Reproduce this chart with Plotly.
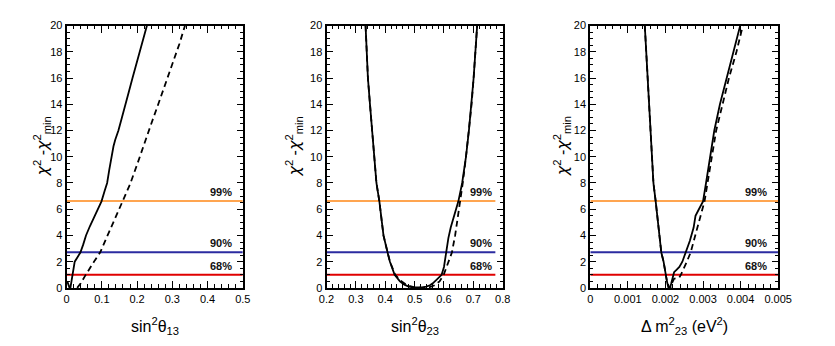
import plotly.graph_objects as go

# chi2 profiles
# panel 1: sin^2 theta_13
s13_solid_x = [0.002, 0.005, 0.008, 0.011, 0.013, 0.016, 0.019, 0.023, 0.030, 0.039, 0.047, 0.055,
               0.066, 0.077, 0.088, 0.099, 0.108, 0.115, 0.121, 0.127, 0.133, 0.138, 0.147, 0.157,
               0.166, 0.177, 0.187, 0.197, 0.207, 0.218, 0.228]
s13_solid_y = [0.5, 0.15, 0.02, 0.05, 0.4, 1.0, 1.6, 2.0, 2.3, 2.7, 3.3, 4.0,
               4.7, 5.3, 5.9, 6.6, 7.4, 8.0, 9.0, 10.0, 10.8, 11.3, 12.0, 13.0,
               14.0, 15.0, 16.0, 17.0, 18.0, 19.0, 20.0]
s13_dash_x = [0.030, 0.040, 0.052, 0.065, 0.080, 0.095, 0.110, 0.125, 0.140, 0.160, 0.180, 0.200,
              0.220, 0.240, 0.260, 0.280, 0.300, 0.320, 0.336]
s13_dash_y = [0.0, 0.35, 0.9, 1.5, 2.1, 2.7, 3.6, 4.5, 5.5, 6.6, 7.9, 9.4,
              11.0, 12.5, 14.0, 15.5, 17.1, 18.6, 20.0]

# panel 2: sin^2 theta_23
s23_solid_x = [0.333, 0.336, 0.341, 0.348, 0.355, 0.362, 0.370, 0.380, 0.394, 0.408, 0.416, 0.432,
               0.450, 0.465, 0.480, 0.495, 0.510, 0.525, 0.540, 0.552, 0.562, 0.575, 0.585, 0.592,
               0.600, 0.607, 0.615, 0.623, 0.632, 0.640, 0.649, 0.662, 0.675, 0.685, 0.694,
               0.701, 0.707, 0.713]
s23_solid_y = [20, 18, 16, 14, 12, 10, 8, 6.6, 4.0, 2.7, 2.0, 1.0,
               0.5, 0.25, 0.1, 0.04, 0.02, 0.04, 0.1, 0.2, 0.35, 0.6, 0.8, 1.0,
               1.6, 2.7, 3.8, 4.6, 5.3, 5.9, 6.6, 8, 10, 12, 14,
               16, 18, 20]
s23_dash_x = [0.333, 0.336, 0.341, 0.348, 0.355, 0.362, 0.370, 0.380, 0.394, 0.408, 0.416, 0.434,
              0.455, 0.475, 0.500, 0.525, 0.550, 0.568, 0.585, 0.599, 0.612, 0.627, 0.638,
              0.645, 0.655, 0.664, 0.675, 0.685, 0.694, 0.701, 0.707, 0.713]
s23_dash_y = [20, 18, 16, 14, 12, 10, 8, 6.6, 4.0, 2.7, 2.0, 1.0,
              0.5, 0.2, 0.05, 0.0, 0.05, 0.2, 0.5, 1.0, 1.8, 2.7, 4.0,
              5.0, 6.6, 8, 10, 12, 14, 16, 18, 20]

# panel 3: delta m^2_23 (eV^2)
dm_solid_x = [0.00145, 0.00149, 0.00154, 0.00158, 0.00161, 0.00164, 0.00168, 0.00174, 0.00180,
              0.00184, 0.00189, 0.00195, 0.00200, 0.00204, 0.00208, 0.00212, 0.00215, 0.00219,
              0.00223, 0.00230, 0.00237, 0.00245, 0.00254, 0.00265, 0.00275, 0.00280, 0.00289,
              0.00300, 0.00308, 0.00319, 0.00330, 0.00345, 0.00363, 0.00382, 0.00399]
dm_solid_y = [20, 18, 16, 14, 12, 10, 8, 6.6, 5.0,
              4.0, 2.7, 2.0, 1.0, 0.5, 0.0, 0.0, 0.3, 0.8,
              1.2, 1.4, 1.6, 2.0, 2.7, 3.6, 4.6, 5.5, 6.0,
              6.6, 8, 10, 12, 14, 16, 18, 20]
dm_dash_x = [0.00145, 0.00149, 0.00154, 0.00158, 0.00161, 0.00164, 0.00168, 0.00174, 0.00180,
             0.00184, 0.00189, 0.00195, 0.00200, 0.00204, 0.00209, 0.00213, 0.00218, 0.00223,
             0.00230, 0.00237, 0.00241, 0.00250, 0.00257, 0.00267, 0.00280, 0.00293, 0.00304,
             0.00312, 0.00323, 0.00335, 0.00352, 0.00369, 0.00389, 0.00406]
dm_dash_y = [20, 18, 16, 14, 12, 10, 8, 6.6, 5.0,
             4.0, 2.7, 2.0, 1.0, 0.5, 0.1, 0.0, 0.4, 0.7,
             0.75, 0.8, 1.0, 1.5, 2.0, 2.7, 4.0, 5.5, 6.6,
             8, 10, 12, 14, 16, 18, 20]

# confidence levels
cl_values = [1.0, 2.71, 6.63]
cl_labels = ['68%', '90%', '99%']
cl_colors = ['#e00000', '#2b2ba0', '#ffa550']

panels = [
    dict(solid=(s13_solid_x, s13_solid_y), dash=(s13_dash_x, s13_dash_y),
         xrange=[0, 0.5], clx=[0, 0.5], dtick=0.1, minor=0.02,
         title='sin<sup>2</sup>θ<sub>13</sub>'),
    dict(solid=(s23_solid_x, s23_solid_y), dash=(s23_dash_x, s23_dash_y),
         xrange=[0.2, 0.8], clx=[0.2, 0.775], dtick=0.1, minor=0.02,
         title='sin<sup>2</sup>θ<sub>23</sub>'),
    dict(solid=(dm_solid_x, dm_solid_y), dash=(dm_dash_x, dm_dash_y),
         xrange=[0, 0.005], clx=[0, 0.005], dtick=0.001, minor=0.0002,
         title='Δ m<sup>2</sup><sub>23</sub> (eV<sup>2</sup>)'),
]

# the page body has an 8px margin, so the figure starts at (8, 8) in the window
OFF = 8
WIN_W, WIN_H = 835, 346
W, H = WIN_W - OFF, WIN_H - OFF


def px_x(px):
    return (px - OFF) / W


def px_y(py):
    return 1 - (py - OFF) / H


# plot frames in window pixels (left, right)
frames = [(60, 241), (327, 508), (598, 791)]
top_px, bot_px = 20, 292
ytitle_px = [35, 294, 569]

font = 'Liberation Sans, Arial, Helvetica, sans-serif'
chi = "<span style=\"font-family:'DejaVu Sans'\"><i>χ</i></span>"
ytitle = chi + '<sup>2</sup> -' + chi + '<sup>2</sup><sub>min</sub>'

fig = go.Figure()
layout = {}
annotations = []

for i, p in enumerate(panels):
    n = '' if i == 0 else str(i + 1)
    xa, ya = 'x' + n, 'y' + n
    for lv, col in zip(cl_values, cl_colors):
        fig.add_trace(go.Scatter(x=p['clx'], y=[lv, lv], mode='lines', xaxis=xa, yaxis=ya,
                                 line=dict(color=col, width=2), showlegend=False, hoverinfo='skip'))
    fig.add_trace(go.Scatter(x=p['dash'][0], y=p['dash'][1], mode='lines', xaxis=xa, yaxis=ya,
                             line=dict(color='black', width=1.8, dash='6px,4px'), showlegend=False))
    fig.add_trace(go.Scatter(x=p['solid'][0], y=p['solid'][1], mode='lines', xaxis=xa, yaxis=ya,
                             line=dict(color='black', width=1.8), showlegend=False))

    l, r = frames[i]
    layout['xaxis' + n] = dict(
        domain=[px_x(l), px_x(r)], anchor=ya, range=p['xrange'], dtick=p['dtick'], tick0=0,
        ticks='inside', ticklen=7, tickwidth=1, tickcolor='black', mirror='allticks',
        showline=True, linecolor='black', linewidth=2, showgrid=False, zeroline=False,
        tickfont=dict(size=11, color='black'),
        minor=dict(dtick=p['minor'], tick0=0, ticks='inside', ticklen=3.5, tickcolor='black'),
    )
    layout['yaxis' + n] = dict(
        domain=[px_y(bot_px), px_y(top_px)], anchor=xa, range=[0, 20], dtick=2,
        ticks='inside', ticklen=6, tickwidth=1, tickcolor='black', mirror='allticks',
        showline=True, linecolor='black', linewidth=2, showgrid=False, zeroline=False,
        tickfont=dict(size=11, color='black'),
        minor=dict(dtick=0.5, ticks='inside', ticklen=3, tickcolor='black'),
    )
    # axis titles
    annotations.append(dict(text=p['title'], xref='paper', yref='paper', x=px_x((l + r) / 2),
                            y=px_y(331), xanchor='center', yanchor='middle', showarrow=False,
                            font=dict(size=16, color='black')))
    annotations.append(dict(text=ytitle, xref='paper', yref='paper', x=px_x(ytitle_px[i]),
                            y=px_y(145), textangle=-90, xanchor='center', yanchor='middle',
                            showarrow=False, font=dict(size=16, color='black')))
    # confidence level labels
    for lv, lab in zip(cl_values, cl_labels):
        annotations.append(dict(text='<b>' + lab + '</b>', xref=xa + ' domain', yref=ya,
                                x=0.95, y=lv, xanchor='right', yanchor='bottom', yshift=1,
                                showarrow=False, font=dict(size=11, color='#111111')))

fig.update_layout(
    **layout,
    annotations=annotations,
    width=W, height=H,
    margin=dict(l=0, r=0, t=0, b=0),
    paper_bgcolor='white', plot_bgcolor='white',
    font=dict(family=font, color='black'),
    showlegend=False,
)
fig.write_html('out.html')
